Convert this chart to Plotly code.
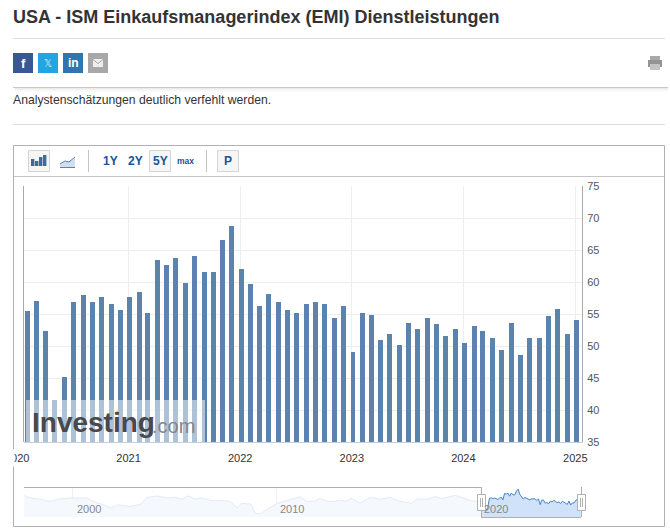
import pandas as pd
import plotly.graph_objects as go

W = 670
H = 532

# monthly release dates and index values of the main bars
fechas = [
    "2020-02-05", "2020-03-05", "2020-04-05", "2020-05-05", "2020-06-05", "2020-07-05",
    "2020-08-05", "2020-09-05", "2020-10-05", "2020-11-05", "2020-12-05", "2021-01-05",
    "2021-02-05", "2021-03-05", "2021-04-05", "2021-05-05", "2021-06-05", "2021-07-05",
    "2021-08-05", "2021-09-05", "2021-10-05", "2021-11-05", "2021-12-05", "2022-01-05",
    "2022-02-05", "2022-03-05", "2022-04-05", "2022-05-05", "2022-06-05", "2022-07-05",
    "2022-08-05", "2022-09-05", "2022-10-05", "2022-11-05", "2022-12-05", "2023-01-05",
    "2023-02-05", "2023-03-05", "2023-04-05", "2023-05-05", "2023-06-05", "2023-07-05",
    "2023-08-05", "2023-09-05", "2023-10-05", "2023-11-05", "2023-12-05", "2024-01-05",
    "2024-02-05", "2024-03-05", "2024-04-05", "2024-05-05", "2024-06-05", "2024-07-05",
    "2024-08-05", "2024-09-05", "2024-10-05", "2024-11-05", "2024-12-05", "2025-01-05",
]
valores = [
    55.4, 57.1, 52.4, 41.6, 45.2, 56.9, 57.9, 56.8, 57.6, 56.5, 55.7, 57.6,
    58.5, 55.1, 63.5, 62.6, 63.8, 59.9, 64.0, 61.5, 61.6, 66.5, 68.8, 62.1,
    59.7, 56.3, 58.2, 56.9, 55.7, 55.1, 56.5, 56.8, 56.5, 54.3, 56.3, 49.1,
    55.1, 54.9, 51.0, 51.8, 50.2, 53.6, 52.6, 54.3, 53.5, 51.6, 52.6, 50.4,
    53.2, 52.4, 51.3, 49.3, 53.6, 48.6, 51.3, 51.3, 54.7, 55.8, 51.9, 54.0,
]
anios_ticks = ["2021-01-01", "2022-01-01", "2023-01-01", "2024-01-01", "2025-01-01"]
anios_labels = ["2021", "2022", "2023", "2024", "2025"]
y_ticks = [35, 40, 45, 50, 55, 60, 65, 70, 75]

# navigator history before the selected window
nav_anios = [
    1997.6, 1997.9, 1998.4, 1998.9, 1999.2, 1999.85, 2000.7, 2001.1, 2001.5, 2001.85,
    2002.2, 2002.85, 2003.35, 2003.65, 2004.15, 2004.65, 2005.03, 2005.35, 2005.69, 2006.0,
    2006.35, 2006.85, 2007.3, 2007.75, 2008.07, 2008.3, 2008.75, 2008.98, 2009.2, 2009.65,
    2010.05, 2010.6, 2011.2, 2011.5, 2011.9, 2012.15, 2012.55, 2012.9, 2013.15, 2013.48,
    2013.68, 2014.14, 2014.63, 2015.12, 2015.62, 2016.1, 2016.68, 2016.93, 2017.42, 2017.83,
    2018.16, 2018.82, 2019.23, 2019.72, 2019.97, 2020.1,
]
nav_valores = [
    60.6, 57.6, 55.9, 52.9, 55.9, 57.6, 57.6, 52.0, 49.0, 44.8,
    49.0, 46.5, 49.9, 58.4, 60.1, 57.6, 58.4, 56.3, 60.5, 56.3,
    57.6, 54.2, 54.2, 53.3, 44.8, 50.7, 49.9, 37.9, 37.0, 44.8,
    50.7, 55.0, 59.3, 53.3, 53.3, 57.1, 53.3, 53.3, 55.0, 53.3,
    57.6, 50.7, 58.4, 55.9, 58.4, 53.3, 50.7, 56.3, 55.9, 59.3,
    56.7, 61.0, 57.6, 53.3, 54.2, 55.4,
]
nav_ticks = [2000, 2010, 2020]

AZUL = "#5b83ae"
TINTA = "#333333"
BORDE = "#b0b0b0"
AZUL_BTN = "#17549b"


def px(x):
    return x / W


def py(y):
    return 1 - y / H


fig = go.Figure()


def rect(x0, y0, x1, y1, fill=None, line=None, width=1, opacity=1):
    fig.add_shape(type="rect", xref="paper", yref="paper", x0=px(x0), x1=px(x1), y0=py(y0), y1=py(y1),
                  fillcolor=fill if fill else "rgba(0,0,0,0)", opacity=opacity,
                  line=dict(color=line if line else "rgba(0,0,0,0)", width=width if line else 0))


def linea(x0, y0, x1, y1, color=BORDE, width=1):
    fig.add_shape(type="line", xref="paper", yref="paper", x0=px(x0), x1=px(x1), y0=py(y0), y1=py(y1),
                  line=dict(color=color, width=width))


def poly(puntos, fill=None, line=None, width=1):
    d = "M" + " L".join(f"{px(a):.5f},{py(b):.5f}" for a, b in puntos)
    if fill:
        d += " Z"
    fig.add_shape(type="path", xref="paper", yref="paper", path=d,
                  fillcolor=fill if fill else "rgba(0,0,0,0)",
                  line=dict(color=line if line else "rgba(0,0,0,0)", width=width if line else 0))


def texto(x, y, t, size=12, color=TINTA, bold=False, anchor="left", family="Liberation Sans"):
    fig.add_annotation(xref="paper", yref="paper", x=px(x), y=py(y), text=f"<b>{t}</b>" if bold else t,
                       showarrow=False, xanchor=anchor, yanchor="middle", borderpad=0, borderwidth=0,
                       font=dict(size=size, color=color, family=family))


# bars
fig.add_trace(go.Bar(x=fechas, y=valores, marker=dict(color=AZUL, line=dict(width=0)),
                     width=16.3 * 86400000, xaxis="x", yaxis="y", showlegend=False))

# navigator
dias = pd.to_datetime(fechas)
nav_recientes = [d.year + (d.dayofyear - 1) / 365.25 for d in dias]
fig.add_trace(go.Scatter(x=nav_anios, y=nav_valores, mode="lines", fill="tozeroy", fillcolor="#f5f8fd",
                         line=dict(color="#d9e6f5", width=0.8), xaxis="x2", yaxis="y2", showlegend=False))
fig.add_trace(go.Scatter(x=nav_recientes, y=valores, mode="lines", fill="tozeroy", fillcolor="#cfe2fa",
                         line=dict(color="#4285c9", width=1), xaxis="x2", yaxis="y2", showlegend=False))

fig.update_layout(
    template="none",
    width=W, height=H, margin=dict(l=0, r=0, t=0, b=0, pad=0),
    paper_bgcolor="white", plot_bgcolor="white", bargap=0,
    font=dict(family="Liberation Sans", size=12, color=TINTA),
    xaxis=dict(type="date", domain=[px(24), px(582)], range=["2020-01-25", "2025-01-23"], anchor="y",
               automargin=False, tickmode="array", tickvals=anios_ticks, ticktext=anios_labels,
               showgrid=True, gridcolor="#eeeeee", gridwidth=1, zeroline=False,
               showline=True, linecolor="#c0d0e0", linewidth=1,
               ticks="outside", ticklen=6, tickcolor="rgba(0,0,0,0)",
               tickfont=dict(size=11, color=TINTA)),
    yaxis=dict(domain=[py(442), py(186)], range=[35, 75], side="right", anchor="x",
               automargin=False, tickmode="array", tickvals=y_ticks,
               showgrid=True, gridcolor="#eeeeee", gridwidth=1, zeroline=False,
               showline=True, linecolor="#aaaaaa", linewidth=1,
               ticks="outside", ticklen=2, tickcolor="rgba(0,0,0,0)",
               tickfont=dict(size=11, color="#555555")),
    xaxis2=dict(domain=[px(24), px(581)], range=[1997.59, 2025.02], anchor="y2",
                automargin=False, tickmode="array", tickvals=nav_ticks[:2], showticklabels=False,
                showgrid=True, gridcolor="#f0f0f0", zeroline=False, showline=False),
    yaxis2=dict(domain=[py(517), py(487)], range=[33.2, 71.7], anchor="x2", visible=False,
                automargin=False),
)

# page header
texto(13, 17, "USA - ISM Einkaufsmanagerindex (EMI) Dienstleistungen", size=18, bold=True)
linea(13, 38.5, 665, 38.5, "#dddddd")
for x0, color in zip([13, 38, 63, 88], ["#3a5795", "#22a5e0", "#2f76ae", "#a8a8a8"]):
    rect(x0, 53, x0 + 20, 73, fill=color)
texto(23, 63, "f", size=13, color="white", bold=True, anchor="center")
texto(48, 63, "𝕏", size=10, color="#d5eefa", anchor="center", family="DejaVu Sans")
texto(73, 63, "in", size=12, color="white", bold=True, anchor="center")
rect(93, 59, 103, 67, fill="#eeeeee")
poly([(93, 59.5), (98, 63.5), (103, 59.5)], line="#a8a8a8")

# printer icon
rect(650, 56, 660, 60, fill="#a9a9a9")
rect(648, 60, 662, 67, fill="#8f9599")
rect(650, 64, 660, 70, fill="#c4c4c4")

# header shadow
for i, op in enumerate([0.16, 0.10, 0.06, 0.03]):
    rect(15, 88 + i, 668, 89 + i, fill="#808080", opacity=op)
linea(13, 87.5, 668, 87.5, "#c8c8c8")
texto(13, 100, "Analystenschätzungen deutlich verfehlt werden.", size=12.2)
linea(13, 124.5, 665, 124.5, "#dddddd")

# chart frame and toolbar
rect(13.5, 145.5, 664.5, 526.5, line=BORDE)
linea(14, 176.5, 664, 176.5, "#c4c4c4")
linea(23.5, 186, 23.5, 442, "#aaaaaa")
linea(88.5, 150, 88.5, 172, "#c4c4c4")
linea(206.5, 150, 206.5, 172, "#c4c4c4")
for x0, x1 in [(28.5, 49.5), (149.5, 170.5), (217.5, 238.5)]:
    rect(x0, 150.5, x1, 171.5, fill="#f6f6f6", line="#d4d4d4")
for x0, y0 in [(31, 159), (35, 161), (39, 157), (43, 155)]:
    rect(x0, y0, x0 + 3.4, 166, fill="#3f6a9c")
poly([(60, 167), (60, 164), (65, 161), (69, 162), (75, 157), (75, 167)], fill="#cfe0f0")
poly([(60, 164), (65, 161), (69, 162), (75, 157)], line="#5b83ae")
linea(60, 167.5, 75, 167.5, "#5b83ae")
texto(110, 161, "1Y", size=12, color=AZUL_BTN, bold=True, anchor="center")
texto(135, 161, "2Y", size=12, color=AZUL_BTN, bold=True, anchor="center")
texto(160, 161, "5Y", size=12, color=AZUL_BTN, bold=True, anchor="center")
texto(185, 161, "max", size=8.5, color=AZUL_BTN, bold=True, anchor="center")
texto(228, 161, "P", size=12, color=AZUL_BTN, bold=True, anchor="center")

# first year label, cut off by the chart frame as in the page
texto(28.5, 458, "2020", size=11, anchor="right")
fig.add_annotation(xref="paper", yref="paper", x=0, y=py(458), text="&nbsp;", showarrow=False,
                   xanchor="left", yanchor="middle", width=13, height=16, bgcolor="white", borderpad=0)

# watermark
rect(26, 400, 205, 442, fill="white", opacity=0.5)
texto(32, 422, "Investing", size=28, color="#48484d", bold=True)
texto(152, 426, ".com", size=20, color="#85858a")
poly([(115.5, 415), (116.5, 411), (120, 410), (119.5, 414)], fill="#f7b84b")

# navigator furniture
linea(24, 487.5, 481, 487.5, BORDE)
linea(481.5, 487, 481.5, 517, BORDE)
linea(481, 517.5, 581, 517.5, BORDE)
linea(581.5, 487, 581.5, 517, BORDE)
for x0 in [477, 577]:
    rect(x0 + 0.5, 494.5, x0 + 8.5, 510.5, fill="white", line=BORDE)
    linea(x0 + 3.5, 498, x0 + 3.5, 507, BORDE)
    linea(x0 + 5.5, 498, x0 + 5.5, 507, BORDE)
for x0, lab in zip([76.5, 279.5, 483.5], nav_ticks):
    texto(x0, 509, str(lab), size=11, color="#888888")

fig.write_html("out.html", config=dict(displayModeBar=False),
               post_script="document.body.style.margin='0';")
